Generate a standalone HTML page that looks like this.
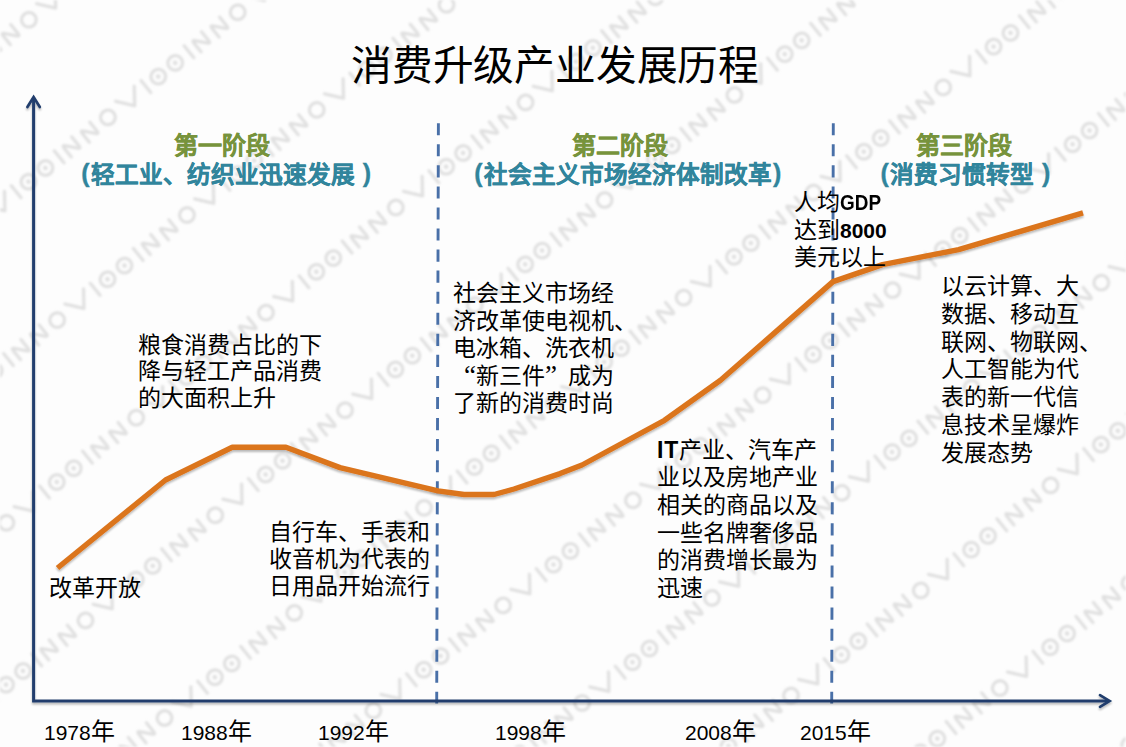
<!DOCTYPE html>
<html lang="zh-CN">
<head>
<meta charset="utf-8">
<title>消费升级产业发展历程</title>
<style>
  html, body { margin: 0; padding: 0; }
  body {
    width: 1126px; height: 747px; overflow: hidden; position: relative;
    background: #fdfdfd;
    font-family: "Liberation Sans", sans-serif;
    color: #000;
  }
  #stage { position: absolute; left: 0; top: 0; width: 1126px; height: 747px; overflow: hidden; }
  svg { position: absolute; left: 0; top: 0; }
  .t { position: absolute; white-space: nowrap; }
  .title {
    left: 0; width: 1110px; top: 40px; text-align: center;
    font-size: 40.7px; line-height: 52px; font-weight: 300; letter-spacing: -0.2px;
  }
  .hg, .hb {
    font-weight: bold; line-height: 28.6px;
    -webkit-text-stroke: 0.35px currentColor; text-shadow: 0 0 2px rgba(255,255,255,0.9);
  }
  .hg { color: #77933c; font-size: 24px; }
  .hb { color: #31859c; font-size: 23.6px; word-spacing: 0px; }
  .hb .p { font-size: 25px; margin-right: 1.3px; position: relative; top: -0.5px; }
  .hb .p.r { margin-right: 0; margin-left: 1.3px; }
  .body {
    font-family: "Liberation Serif", serif; font-size: 23px; line-height: 27.6px;
    white-space: pre; color: #000;
  }
  .body b { font-family: "Liberation Sans", sans-serif; font-weight: bold; font-size: 21px; }
  .body b.gdp { display: inline-block; font-size: 21.5px; transform: scaleX(0.88); transform-origin: 0 50%; }
  .body b.it { font-size: 23px; letter-spacing: 0.8px; }
  .body .q { display: inline-block; width: 23px; font-size: 27px; line-height: 0; }
  .body .ql { text-align: right; }
  .body .qr { text-align: left; }
  .yr { font-size: 21px; line-height: 30px; top: 717px; }
  .yr span { font-size: 24px; }
</style>
</head>
<body>
<div id="stage">

<svg width="1126" height="747" viewBox="0 0 1126 747">
  <defs>
    <filter id="wb" x="-5%" y="-5%" width="110%" height="110%"><feGaussianBlur stdDeviation="0.8"/></filter>
    <pattern id="wmp" x="-1.4" y="1.2" width="167" height="125.6" patternUnits="userSpaceOnUse" patternTransform="rotate(-39)">
      <g fill="none" stroke="#e0e0e0" stroke-width="3.2" stroke-linecap="round" stroke-linejoin="round">
        <circle cx="11.4" cy="32.3" r="7.35"/>
        <path d="M27.5,24.6 L39.5,40.1 L51.5,24.6"/>
        <path d="M60.3,24.6 V40.1"/>
        <circle cx="76.2" cy="32.3" r="7.35"/><circle cx="76.2" cy="32.3" r="2.3" fill="#e0e0e0" stroke="none"/>
        <circle cx="98" cy="32.3" r="7.35"/><circle cx="98" cy="32.3" r="2.3" fill="#e0e0e0" stroke="none"/>
        <path d="M115.7,24.6 V40.1"/>
        <path d="M125,40.1 L125,28.60 Q125,24.6 127.57,27.66 L135.43,37.04 Q138,40.1 138,36.10 L138,24.6"/>
        <path d="M148.3,40.1 L148.3,28.60 Q148.3,24.6 150.87,27.66 L158.73,37.04 Q161.3,40.1 161.3,36.10 L161.3,24.6"/>
      </g>
    </pattern>
  </defs>
  <rect x="0" y="0" width="1126" height="747" fill="url(#wmp)" filter="url(#wb)"/>
</svg>

<svg width="1126" height="747" viewBox="0 0 1126 747">
  <!-- dashed dividers -->
  <defs>
    <filter id="sh" x="-5%" y="-5%" width="110%" height="115%">
      <feGaussianBlur in="SourceAlpha" stdDeviation="1.1" result="b"/>
      <feOffset in="b" dx="0" dy="1.6" result="o"/>
      <feComponentTransfer in="o" result="s"><feFuncA type="linear" slope="0.28"/></feComponentTransfer>
      <feMerge><feMergeNode in="s"/><feMergeNode in="SourceGraphic"/></feMerge>
    </filter>
    <filter id="soft" x="-5%" y="-5%" width="110%" height="110%"><feGaussianBlur stdDeviation="0.35"/></filter>
  </defs>
  <g filter="url(#soft)">
  <line x1="438.4" y1="123.2" x2="436.7" y2="703.5" stroke="#4a70a8" stroke-width="2.9" stroke-dasharray="12.1 8.96"/>
  <line x1="833.3" y1="123.2" x2="831.7" y2="703.5" stroke="#4a70a8" stroke-width="2.9" stroke-dasharray="12.1 8.96"/>
  </g>
  <!-- axes -->
  <g fill="none" stroke="#203e6d" stroke-width="3" stroke-linecap="butt" stroke-linejoin="miter" filter="url(#sh)">
    <path d="M33.6,97.5 V701 H1109"/>
    <path d="M27.4,107 L33.6,97 L39.8,107" stroke-width="2.7" stroke-linecap="round" stroke-linejoin="miter"/>
    <path d="M1100,695.2 L1109.6,701 L1100,706.8" stroke-width="2.7" stroke-linecap="round" stroke-linejoin="miter"/>
  </g>
  <!-- trend line -->
  <polyline fill="none" stroke="#db741d" stroke-width="5.4" stroke-linejoin="round" stroke-linecap="butt" filter="url(#sh)"
    points="57.5,568 165.5,480 232.3,447.3 286,447.3 340,467.6 438,490.8 464,494.5 494,494.5 514,489 560,473.6 582,465 664.5,420.3 720.5,380.2 833,281.6 882.5,264.6 958.6,249.7 1083,212.8"/>
</svg>

<div class="t title">消费升级产业发展历程</div>

<div class="t hg" style="left:174px; top:132.3px;">第一阶段</div>
<div class="t hb" style="left:81.2px; top:159.6px;"><span class="p">(</span>轻工业、纺织业迅速发展 <span class="p r">)</span></div>
<div class="t hg" style="left:572.3px; top:132.3px;">第二阶段</div>
<div class="t hb" style="left:474.2px; top:159.6px;"><span class="p">(</span>社会主义市场经济体制改革<span class="p r">)</span></div>
<div class="t hg" style="left:915.5px; top:132.3px;">第三阶段</div>
<div class="t hb" style="left:880.4px; top:159.6px;"><span class="p">(</span>消费习惯转型 <span class="p r">)</span></div>

<div class="t body" style="left:138px; top:332.5px; line-height:26.6px;">粮食消费占比的下
降与轻工产品消费
的大面积上升</div>

<div class="t body" style="left:49px; top:574.5px;">改革开放</div>

<div class="t body" style="left:269px; top:520px; line-height:26.8px;">自行车、手表和
收音机为代表的
日用品开始流行</div>

<div class="t body" style="left:453px; top:280px;">社会主义市场经
济改革使电视机、
电冰箱、洗衣机
<span class="q ql">“</span>新三件<span class="q qr">”</span>成为
了新的消费时尚</div>

<div class="t body" style="left:657px; top:436.7px; line-height:27.65px;"><b class="it">IT</b>产业、汽车产
业以及房地产业
相关的商品以及
一些名牌奢侈品
的消费增长最为
迅速</div>

<div class="t body" style="left:794px; top:189px; line-height:27px;">人均<b class="gdp">GDP</b>
达到<b>8000</b>
美元以上</div>

<div class="t body" style="left:941px; top:273px; line-height:27.8px;">以云计算、大
数据、移动互
联网、物联网、
人工智能为代
表的新一代信
息技术呈爆炸
发展态势</div>

<div class="t yr" style="left:44px;">1978<span>年</span></div>
<div class="t yr" style="left:181px;">1988<span>年</span></div>
<div class="t yr" style="left:318px;">1992<span>年</span></div>
<div class="t yr" style="left:495px;">1998<span>年</span></div>
<div class="t yr" style="left:685px;">2008<span>年</span></div>
<div class="t yr" style="left:800px;">2015<span>年</span></div>

</div>
</body>
</html>
